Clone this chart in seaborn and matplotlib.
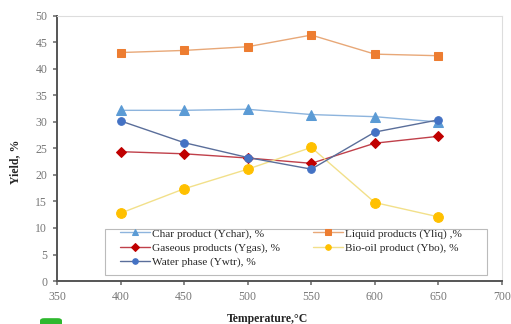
import matplotlib
matplotlib.use("Agg")
import matplotlib.pyplot as plt
import seaborn as sns
import pandas as pd
from matplotlib.patches import FancyBboxPatch, Rectangle

temperature = [400, 450, 500, 550, 600, 650]
char_yield = [32.2, 32.2, 32.4, 31.4, 31.0, 30.0]
liquid_yield = [43.1, 43.5, 44.2, 46.4, 42.8, 42.5]
gas_yield = [24.4, 24.0, 23.2, 22.2, 26.0, 27.3]
biooil_yield = [12.8, 17.4, 21.1, 25.2, 14.8, 12.1]
water_yield = [30.2, 26.1, 23.3, 21.1, 28.1, 30.4]

series_names = ["Char product (Ychar), %", "Liquid products (Yliq) ,%",
                "Gaseous products (Ygas), %", "Bio-oil product (Ybo), %",
                "Water phase (Ywtr), %"]
series_values = [char_yield, liquid_yield, gas_yield, biooil_yield, water_yield]
x_ticks = [350, 400, 450, 500, 550, 600, 650, 700]
y_ticks = [0, 5, 10, 15, 20, 25, 30, 35, 40, 45, 50]

styles = {
    series_names[0]: dict(line="#8db4dd", mk="#5b9bd5", marker="^", ms=6.5),
    series_names[1]: dict(line="#e8a878", mk="#ed7d31", marker="s", ms=5.5),
    series_names[2]: dict(line="#c0404a", mk="#c00000", marker="D", ms=5),
    series_names[3]: dict(line="#f2e08a", mk="#ffc000", marker="o", ms=7),
    series_names[4]: dict(line="#5a6e9a", mk="#4472c4", marker="o", ms=5.5),
}

rows = []
for name, vals in zip(series_names, series_values):
    for t, v in zip(temperature, vals):
        rows.append({"Temperature": t, "Yield": v, "Series": name})
df = pd.DataFrame(rows)

sns.set_theme(style="white")
plt.rcParams["font.family"] = ["Liberation Serif", "DejaVu Serif"]

fig = plt.figure(figsize=(5.11, 3.24), dpi=100)
ax = fig.add_axes([0.1115, 0.1327, 0.871, 0.818])

handles = {}
for name in series_names:
    st = styles[name]
    sub = df[df["Series"] == name]
    sns.lineplot(data=sub, x="Temperature", y="Yield", ax=ax, color=st["line"],
                 linewidth=1.0, marker=st["marker"], markersize=st["ms"],
                 markerfacecolor=st["mk"], markeredgecolor=st["mk"], label=name,
                 legend=False)
    handles[name] = ax.lines[-1]

ax.set_xlim(350, 700)
ax.set_ylim(0, 50)
ax.set_xticks(x_ticks)
ax.set_yticks(y_ticks)
ax.tick_params(axis="both", labelsize=8.5, colors="#777777", length=3,
               direction="out", bottom=True, left=True, pad=4)
for lab in ax.get_xticklabels() + ax.get_yticklabels():
    lab.set_color("#777777")

for s in ["left", "bottom"]:
    ax.spines[s].set_color("#555555")
    ax.spines[s].set_linewidth(1.4)
for s in ["top", "right"]:
    ax.spines[s].set_color("#dddddd")
    ax.spines[s].set_linewidth(0.8)

ax.set_xlabel("Temperature,\u00b0C", fontsize=8.5, fontweight="bold")
ax.set_ylabel("Yield, %", fontsize=8.5, fontweight="bold")
ax.xaxis.set_label_coords(0.472, -0.122)
ax.yaxis.set_label_coords(-0.08, 0.45)

order = [series_names[0], series_names[2], series_names[4],
         series_names[1], series_names[3]]
leg = ax.legend([handles[n] for n in order], order, ncol=2,
                loc="upper left",
                bbox_to_anchor=(120 / 511, 1 - 228.5 / 324),
                bbox_transform=fig.transFigure,
                fontsize=8.1, frameon=False,
                borderpad=0.0, labelspacing=0.38, handlelength=2.7,
                handletextpad=0.15, columnspacing=2.9, borderaxespad=0)
for h in leg.legend_handles:
    h.set_markersize(4)

ax.add_patch(Rectangle((105 / 511, 1 - 275 / 324), 382 / 511, 46 / 324,
                       transform=fig.transFigure, facecolor="none",
                       edgecolor="#bbbbbb", linewidth=0.8, zorder=1))

fig.patches.append(FancyBboxPatch((40 / 511, -0.01), 22 / 511, 0.028,
                                  boxstyle="round,pad=0,rounding_size=0.008",
                                  transform=fig.transFigure, facecolor="#2eb82e",
                                  edgecolor="none"))

fig.savefig("out.png", dpi=100)
